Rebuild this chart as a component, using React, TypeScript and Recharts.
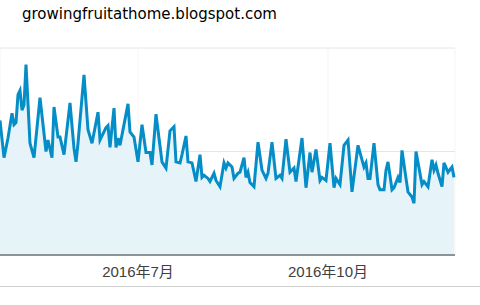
import { AreaChart, Area, XAxis, YAxis, CartesianGrid } from 'recharts';

// x index (about 2 px per step) and traffic value
const steps = [
  0, 2, 4, 6, 7, 8, 9, 10, 11, 12, 13, 15, 17, 20, 23, 24, 26, 27, 29, 30, 32, 35, 37, 38,
  39, 42, 44, 46, 49, 50, 53, 54, 55, 57, 58, 59, 60, 64, 65, 67, 69, 71, 73, 75, 76,
  78, 81, 83, 85, 87, 88, 90, 91, 93, 94, 96, 98, 100, 101, 102, 104, 105, 107, 108, 110, 112, 113, 114,
  116, 117, 119, 120, 122, 123, 124, 125, 127, 129, 131, 133, 134, 136, 138, 140, 141, 143, 145, 147, 148, 151,
  153, 155, 156, 158, 160, 161, 163, 165, 167, 168, 170, 172, 174, 176, 179, 182, 183, 184, 185, 187, 189,
  190, 192, 193, 194, 196, 197, 199, 200, 201, 203, 204, 206, 207, 208, 211, 212, 214, 216, 217, 218, 219,
  221, 222, 224, 226, 227,
];
const visits = [
  130, 94, 113, 137, 126, 128, 155, 159, 140, 145, 184, 108, 94, 152, 100, 111, 94, 143, 114, 114, 97, 147, 103, 90,
  108, 174, 121, 108, 138, 111, 123, 125, 104, 142, 104, 113, 106, 146, 119, 114, 90, 126, 99, 99, 87,
  136, 90, 84, 120, 124, 90, 89, 97, 115, 90, 89, 71, 97, 75, 77, 74, 71, 79, 72, 66, 89, 84, 89,
  85, 74, 79, 80, 94, 75, 80, 70, 66, 109, 82, 74, 79, 109, 74, 77, 74, 112, 80, 84, 71, 113,
  65, 99, 80, 102, 72, 75, 72, 108, 65, 74, 68, 106, 111, 61, 106, 85, 89, 74, 74, 108, 68,
  63, 63, 82, 90, 63, 65, 75, 70, 101, 74, 61, 56, 50, 100, 68, 71, 66, 92, 82, 87, 79,
  66, 89, 80, 85, 75,
];
const tickSteps = [69, 164];
const tickLabels = ['2016年7月', '2016年10月'];
const yTicks = [0, 100, 200];

const data = steps.map((t, i) => ({ t, visits: visits[i] }));

export default function App() {
  return (
    <div style={{ position: 'absolute', left: 0, top: 0, width: 480, height: 305, background: '#fff' }}>
      <div
        style={{
          position: 'absolute',
          left: 22,
          top: 7,
          fontFamily: '"DejaVu Sans", sans-serif',
          fontSize: 15,
          lineHeight: '15px',
          color: '#000',
          whiteSpace: 'nowrap',
        }}
      >
        growingfruitathome.blogspot.com
      </div>
      <div style={{ position: 'absolute', left: 0, top: 286, width: 480, height: 1, background: '#d0d0d0' }} />
      <AreaChart
        width={480}
        height={305}
        data={data}
        margin={{ top: 48, right: 25, bottom: 20, left: 0 }}
      >
        <CartesianGrid horizontal={false} stroke="#f5f5f5" />
        <CartesianGrid vertical={false} stroke="#e6e6e6" />
        <XAxis
          dataKey="t"
          type="number"
          domain={[0, 227.5]}
          ticks={tickSteps}
          tickFormatter={(v) => tickLabels[tickSteps.indexOf(v)]}
          height={30}
          tickSize={0}
          tickMargin={11}
          tickLine={false}
          axisLine={{ stroke: '#333', strokeWidth: 1 }}
          tick={{ fill: '#404040', fontSize: 15, fontFamily: '"Liberation Sans", "Noto Sans CJK JP", sans-serif' }}
        />
        <YAxis hide domain={[0, 200]} ticks={yTicks} />
        <Area
          type="linear"
          dataKey="visits"
          stroke="#058dc7"
          strokeWidth={3}
          fill="#e6f3f9"
          fillOpacity={1}
          dot={false}
          activeDot={false}
          isAnimationActive={false}
        />
      </AreaChart>
    </div>
  );
}
